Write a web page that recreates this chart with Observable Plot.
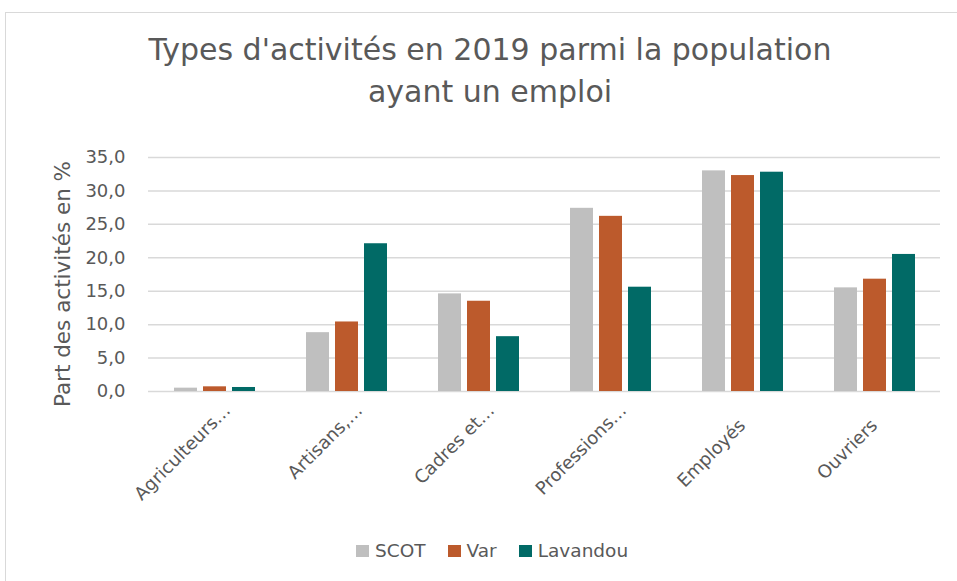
<!DOCTYPE html>
<html>
<head>
<meta charset="utf-8">
<script src="https://cdn.jsdelivr.net/npm/d3@7"></script>
<script src="https://cdn.jsdelivr.net/npm/@observablehq/plot@0.6"></script>
<style>
  html, body { margin: 0; padding: 0; background: #ffffff; }
  body { width: 957px; height: 581px; overflow: hidden; position: relative; font-family: "DejaVu Sans", sans-serif; color: #595959; }
  #frame { position: absolute; left: 5px; top: 12px; width: 1000px; height: 600px; border: 1.5px solid #d9d9d9; box-sizing: border-box; }
  #chart { position: absolute; left: 0; top: 0; }
  #title { position: absolute; left: 0; top: 29px; width: 980px; text-align: center; font-size: 30px; line-height: 42px; }
  #ytitle { position: absolute; left: 62px; top: 284px; transform: translate(-50%, -50%) rotate(-90deg); white-space: nowrap; font-size: 21.5px; }
  #legend { position: absolute; top: 540px; left: 356px; display: flex; align-items: center; font-size: 18.5px; white-space: nowrap; }
  #legend .item { display: flex; align-items: center; margin-right: 22px; }
  #legend .sw { width: 13px; height: 12px; margin-right: 6px; display: inline-block; }
</style>
</head>
<body>
<div id="frame"></div>
<div id="chart"></div>
<div id="title">Types d'activités en 2019 parmi la population<br>ayant un emploi</div>
<div id="ytitle">Part des activités en %</div>
<div id="legend"></div>
<script>
const categories = [
  "Agriculteurs exploitants",
  "Artisans, commerçants, chefs d'entreprise",
  "Cadres et professions intellectuelles supérieures",
  "Professions intermédiaires",
  "Employés",
  "Ouvriers"
];
const tickLabels = ["Agriculteurs…", "Artisans,…", "Cadres et…", "Professions…", "Employés", "Ouvriers"];
const series = ["SCOT", "Var", "Lavandou"];
const scotValues = [0.5, 8.8, 14.6, 27.4, 33.0, 15.5];
const varValues = [0.7, 10.4, 13.5, 26.2, 32.3, 16.8];
const lavandouValues = [0.6, 22.1, 8.2, 15.6, 32.8, 20.5];
const seriesColors = ["#bfbfbf", "#bc5a2c", "#016a66"];
const yTicks = [0, 5, 10, 15, 20, 25, 30, 35];

const valuesBySeries = [scotValues, varValues, lavandouValues];
const rows = [];
categories.forEach((c, i) => {
  series.forEach((s, j) => rows.push({category: c, series: s, value: valuesBySeries[j][i]}));
});
const labelRows = categories.map((c, i) => ({category: c, label: tickLabels[i]}));
const truncated = labelRows.filter(d => d.label.endsWith("…"));
const full = labelRows.filter(d => !d.label.endsWith("…"));
const fmt = d => d.toFixed(1).replace(".", ",");

const chart = Plot.plot({
  width: 957,
  height: 540,
  marginTop: 157,
  marginBottom: 149,
  marginLeft: 148,
  marginRight: 17,
  style: {fontFamily: "DejaVu Sans, sans-serif", fontSize: "18px", color: "#595959", background: "transparent", overflow: "visible"},
  fx: {domain: categories, padding: 0, axis: null, label: null},
  x: {domain: series, paddingInner: 0.22, paddingOuter: 0.85, axis: null},
  y: {domain: [0, 35], ticks: yTicks, tickFormat: fmt, label: null},
  color: {domain: series, range: seriesColors},
  marks: [
    Plot.gridY(yTicks, {stroke: "#d9d9d9", strokeOpacity: 1, strokeWidth: 1.5}),
    Plot.axisY(yTicks, {tickSize: 0, tickPadding: 23, tickFormat: fmt, label: null, fontSize: 18, fill: "#595959"}),
    Plot.barY(rows, {fx: "category", x: "series", y: "value", fill: "series"}),
    Plot.text(truncated, {fx: "category", text: "label", frameAnchor: "bottom", rotate: -45, textAnchor: "end", lineAnchor: "bottom", dx: 17, dy: 20, fontSize: 18, fill: "#595959"}),
    Plot.text(full, {fx: "category", text: "label", frameAnchor: "bottom", rotate: -45, textAnchor: "end", lineAnchor: "bottom", dx: 4, dy: 35, fontSize: 18, fill: "#595959"})
  ]
});
document.getElementById("chart").appendChild(chart);

const legend = document.getElementById("legend");
series.forEach((s, i) => {
  const item = document.createElement("div");
  item.className = "item";
  const sw = document.createElement("span");
  sw.className = "sw";
  sw.style.background = seriesColors[i];
  const t = document.createElement("span");
  t.textContent = s;
  item.appendChild(sw);
  item.appendChild(t);
  legend.appendChild(item);
});
</script>
</body>
</html>
